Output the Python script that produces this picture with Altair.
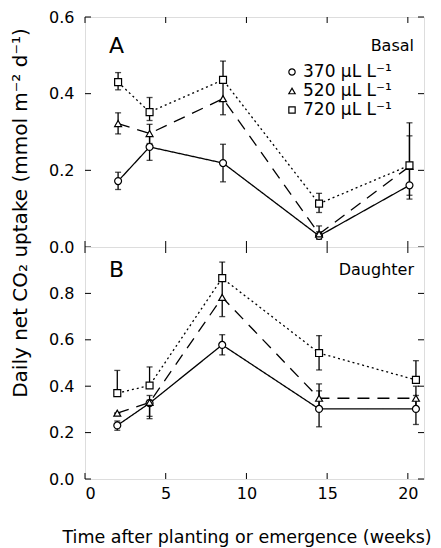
import altair as alt
import pandas as pd

# ---------------- data ----------------
series = ["370 μL L⁻¹", "520 μL L⁻¹", "720 μL L⁻¹"]

weeks_basal = [2.05, 4.0, 8.55, 14.5, 20.1]
basal_370 = [0.172, 0.261, 0.219, 0.029, 0.161]
basal_370_lo = [0.150, 0.226, 0.170, 0.020, 0.125]
basal_370_hi = [0.195, 0.290, 0.268, 0.040, 0.205]
basal_520 = [0.322, 0.296, 0.387, 0.034, 0.210]
basal_520_lo = [0.295, 0.270, 0.345, 0.025, 0.135]
basal_520_hi = [0.350, 0.320, 0.430, 0.055, 0.290]
basal_720 = [0.430, 0.352, 0.436, 0.113, 0.213]
basal_720_lo = [0.410, 0.330, 0.436, 0.090, 0.213]
basal_720_hi = [0.455, 0.390, 0.485, 0.140, 0.324]

weeks_daughter = [2.0, 4.0, 8.5, 14.5, 20.5]
daughter_370 = [0.231, 0.327, 0.578, 0.302, 0.302]
daughter_370_lo = [0.210, 0.270, 0.535, 0.225, 0.235]
daughter_370_hi = [0.250, 0.360, 0.622, 0.380, 0.360]
daughter_520 = [0.284, 0.330, 0.783, 0.348, 0.348]
daughter_520_lo = [0.284, 0.260, 0.700, 0.300, 0.300]
daughter_520_hi = [0.284, 0.340, 0.860, 0.410, 0.400]
daughter_720 = [0.370, 0.403, 0.866, 0.543, 0.427]
daughter_720_lo = [0.370, 0.403, 0.866, 0.470, 0.430]
daughter_720_hi = [0.468, 0.483, 0.935, 0.618, 0.510]

x_ticks = [0, 5, 10, 15, 20]
y_ticks_basal = [0.0, 0.2, 0.4, 0.6]
y_ticks_daughter = [0.0, 0.2, 0.4, 0.6, 0.8]

y_title = "Daily net CO₂ uptake (mmol m⁻² d⁻¹)"
x_title = "Time after planting or emergence (weeks)"

FONT = "DejaVu Sans"
W = 339
H_A = 230
H_B = 232


def long_frame(weeks, vals, los, his):
    rows = []
    for s, v, lo, hi in zip(series, vals, los, his):
        for w, a, b, c in zip(weeks, v, lo, hi):
            rows.append({"week": w, "value": a, "lo": b, "hi": c, "series": s, "line": s})
    return pd.DataFrame(rows)


df_basal = long_frame(weeks_basal,
                      [basal_370, basal_520, basal_720],
                      [basal_370_lo, basal_520_lo, basal_720_lo],
                      [basal_370_hi, basal_520_hi, basal_720_hi])
df_daughter = long_frame(weeks_daughter,
                         [daughter_370, daughter_520, daughter_720],
                         [daughter_370_lo, daughter_520_lo, daughter_720_lo],
                         [daughter_370_hi, daughter_520_hi, daughter_720_hi])

x_scale = alt.Scale(domain=[0, 21], nice=False, zero=False)
shape_scale = alt.Scale(domain=series, range=["circle", "triangle-up", "square"])


def panel(df, ymax, yticks, H, letter, name, show_x, legend, with_ytitle, txt_y):
    xaxis = alt.Axis(values=x_ticks, ticks=False, domain=False, grid=False,
                     labels=show_x, labelFontSize=16, labelPadding=6,
                     labelFont=FONT, title=(x_title if show_x else None),
                     titleFont=FONT, titleFontSize=17.5, titleFontWeight="normal",
                     titlePadding=27, titleX=W / 2 - 8)
    yaxis = alt.Axis(values=yticks, format=".1f", ticks=False, domain=False, grid=False,
                     labelFontSize=16, labelPadding=11, labelFont=FONT, title=None)
    y_scale = alt.Scale(domain=[0, ymax], nice=False, zero=True)

    X = alt.X("week:Q", scale=x_scale, axis=xaxis)
    Y = alt.Y("value:Q", scale=y_scale, axis=yaxis)

    base = alt.Chart(df)
    lines = base.mark_line(color="black", strokeWidth=1.3).encode(
        x=X, y=Y,
        strokeDash=alt.StrokeDash("line:N",
                                  scale=alt.Scale(domain=series, range=[[1, 0], [12, 8], [2, 3]]),
                                  legend=None))
    errs = base.mark_errorbar(ticks=True, size=6, thickness=1.3, color="black").encode(
        x=X, y=alt.Y("lo:Q", scale=y_scale, axis=yaxis), y2="hi:Q")
    pts = base.mark_point(filled=True, fill="white", stroke="black", strokeWidth=1.2,
                          size=48, opacity=1).encode(
        x=X, y=Y, shape=alt.Shape("series:N", scale=shape_scale, legend=None))

    # inward ticks on all four sides
    xt = pd.DataFrame({"week": x_ticks})
    yt = pd.DataFrame({"value": yticks})
    xt_bottom = alt.Chart(xt).mark_rule(color="black", strokeWidth=1).encode(
        x=X, y=alt.value(H), y2=alt.value(H - 6))
    xt_top = alt.Chart(xt).mark_rule(color="black", strokeWidth=1).encode(
        x=X, y=alt.value(0), y2=alt.value(6))
    yt_left = alt.Chart(yt).mark_rule(color="black", strokeWidth=1).encode(
        y=Y, x=alt.value(0), x2=alt.value(6))
    yt_right = alt.Chart(yt).mark_rule(color="black", strokeWidth=1).encode(
        y=Y, x=alt.value(W - 6), x2=alt.value(W))

    lab = pd.DataFrame({"t": [letter], "n": [name], "yt": [y_title]})
    letter_txt = alt.Chart(lab).mark_text(align="left", baseline="middle", font=FONT,
                                          fontSize=22, color="black").encode(
        text="t:N", x=alt.value(24), y=alt.value(txt_y))
    name_txt = alt.Chart(lab).mark_text(align="right", baseline="middle", font=FONT,
                                        fontSize=16, color="black").encode(
        text="n:N", x=alt.value(329), y=alt.value(txt_y))

    layers = [lines, errs, pts, xt_bottom, xt_top, yt_left, yt_right, letter_txt, name_txt]
    if with_ytitle:
        ytitle_txt = alt.Chart(lab).mark_text(align="center", baseline="middle", font=FONT,
                                              fontSize=20, angle=270, color="black").encode(
            text="yt:N", x=alt.value(-64), y=alt.value(196))
        layers.append(ytitle_txt)
    main = alt.layer(*layers)

    if legend:
        leg_df = pd.DataFrame({"series": series})
        leg_y = alt.Y("series:N", axis=None,
                      scale=alt.Scale(type="point", domain=series, range=[55, 93], padding=0))
        leg_pts = alt.Chart(leg_df).mark_point(filled=True, fill="white", stroke="black",
                                               strokeWidth=1.2, size=40, opacity=1).encode(
            x=alt.value(207), y=leg_y,
            shape=alt.Shape("series:N", scale=shape_scale, legend=None))
        leg_txt = alt.Chart(leg_df).mark_text(align="left", baseline="middle", font=FONT,
                                              fontSize=17, color="black").encode(
            x=alt.value(218), y=leg_y, text="series:N")
        return alt.layer(main, leg_pts, leg_txt).resolve_scale(y="independent").properties(
            width=W, height=H)
    return main.properties(width=W, height=H)


top = panel(df_basal, 0.6, y_ticks_basal, H_A, "A", "Basal", False, True, True, 29)
bottom = panel(df_daughter, 1.0, y_ticks_daughter, H_B, "B", "Daughter", True, False, False, 23)

chart = alt.vconcat(top, bottom, spacing=0, bounds="flush").resolve_scale(
    shape="independent", strokeDash="independent", y="independent"
).properties(
    padding={"left": 2, "top": 0, "right": 0, "bottom": 3}
).configure_view(stroke="black", strokeWidth=1.3).configure(background="white")

chart.save("out.html", embed_options={"renderer": "svg", "actions": False})
